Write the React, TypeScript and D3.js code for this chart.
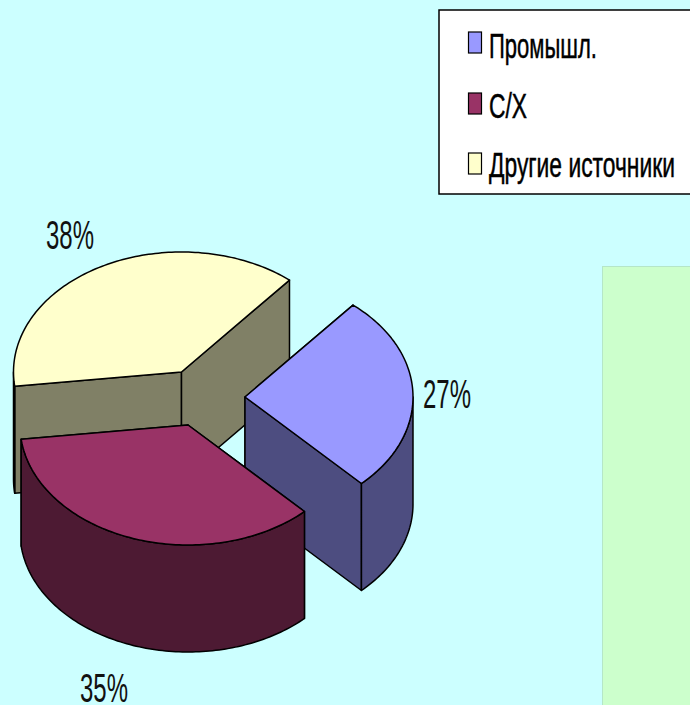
import React from "react";
import * as d3 from "d3";

const categories = ["Промышл.", "С/Х", "Другие источники"];
const shares = [26.7, 35.3, 38];
const percentLabels = ["27%", "35%", "38%"];
const topColors = ["#9999FF", "#993366", "#FFFFCC"];
const sideColors = ["#4D4D80", "#4D1A33", "#808066"];

const W = 690, H = 705;
const RX = 168, RY = 120, DEPTH = 107;
const START = (40 * Math.PI) / 180;
const centers = [[245, 397], [188, 425], [181.5, 372]];
const labelPos = [
  { x: 423, y: 408, w: 48 },
  { x: 80, y: 702, w: 48 },
  { x: 46, y: 249, w: 48 },
];
const legendRows = [
  { y: 58, w: 108, my: 32 },
  { y: 118, w: 38, my: 93 },
  { y: 177, w: 186, my: 153 },
];
const drawOrder = [2, 0, 1];
const FONT = "'Liberation Sans', Arial, sans-serif";

const arcs = d3.pie<number>().sort(null).startAngle(START).endAngle(START + 2 * Math.PI)(shares);
const line = d3.line();

const measureCtx = document.createElement("canvas").getContext("2d")!;
function squeeze(text: string, size: number, width: number) {
  measureCtx.font = `${size}px 'Liberation Sans'`;
  return width / measureCtx.measureText(text).width;
}

function rim(cx: number, cy: number, a0: number, a1: number): [number, number][] {
  const n = Math.max(2, Math.ceil(Math.abs(a1 - a0) / 0.02));
  return d3.range(n + 1).map((i) => {
    const t = a0 + ((a1 - a0) * i) / n;
    return [cx + RX * Math.cos(t), cy + RY * Math.sin(t)] as [number, number];
  });
}

function Slice({ index }: { index: number }) {
  const arc = arcs[index];
  const [cx, cy] = centers[index];
  const t0 = arc.startAngle - Math.PI / 2;
  const t1 = arc.endAngle - Math.PI / 2;
  const top = rim(cx, cy, t0, t1);
  const first = top[0], last = top[top.length - 1];
  const face = (p: [number, number]) =>
    line([[cx, cy], p, [p[0], p[1] + DEPTH], [cx, cy + DEPTH]]) + "Z";
  const wa = Math.max(t0, 0), wb = Math.min(t1, Math.PI);
  let wall: string | null = null;
  if (wb > wa) {
    const upper = rim(cx, cy, wa, wb);
    const lower = upper.map(([x, y]) => [x, y + DEPTH] as [number, number]).reverse();
    wall = line([...upper, ...lower]) + "Z";
  }
  const common = { stroke: "#000", strokeWidth: 1.5, strokeLinejoin: "round" as const };
  return (
    <g>
      <path d={face(first)} fill={sideColors[index]} {...common} />
      <path d={face(last)} fill={sideColors[index]} {...common} />
      {wall && <path d={wall} fill={sideColors[index]} {...common} />}
      <path d={line([[cx, cy], ...top]) + "Z"} fill={topColors[index]} {...common} />
    </g>
  );
}

export default function App() {
  return (
    <svg width={W} height={H} viewBox={`0 0 ${W} ${H}`} style={{ position: "absolute", left: 0, top: 0, display: "block" }}>
      <rect width={W} height={H} fill="#CCFFFF" />
      <rect x={602.5} y={266.5} width={100} height={460} fill="#CCFFCC" stroke="#B5E6C8" />
      {drawOrder.map((i) => <Slice key={i} index={i} />)}
      {percentLabels.map((t, i) => (
        <text key={t} transform={`translate(${labelPos[i].x},${labelPos[i].y}) scale(${squeeze(t, 41, labelPos[i].w)},1)`}
          fontFamily={FONT} fontSize={41} fill="#111">{t}</text>
      ))}
      <rect x={439} y={10} width={260} height={184} fill="#fff" stroke="#000" strokeWidth={1.5} />
      {categories.map((c, i) => (
        <g key={c}>
          <rect x={468.5} y={legendRows[i].my} width={13} height={21} fill={topColors[i]} stroke="#000" strokeWidth={1.2} />
          <text transform={`translate(489,${legendRows[i].y}) scale(${squeeze(c, 36, legendRows[i].w)},1)`}
            fontFamily={FONT} fontSize={36} fill="#000" stroke="#000" strokeWidth={0.5}>{c}</text>
        </g>
      ))}
    </svg>
  );
}
